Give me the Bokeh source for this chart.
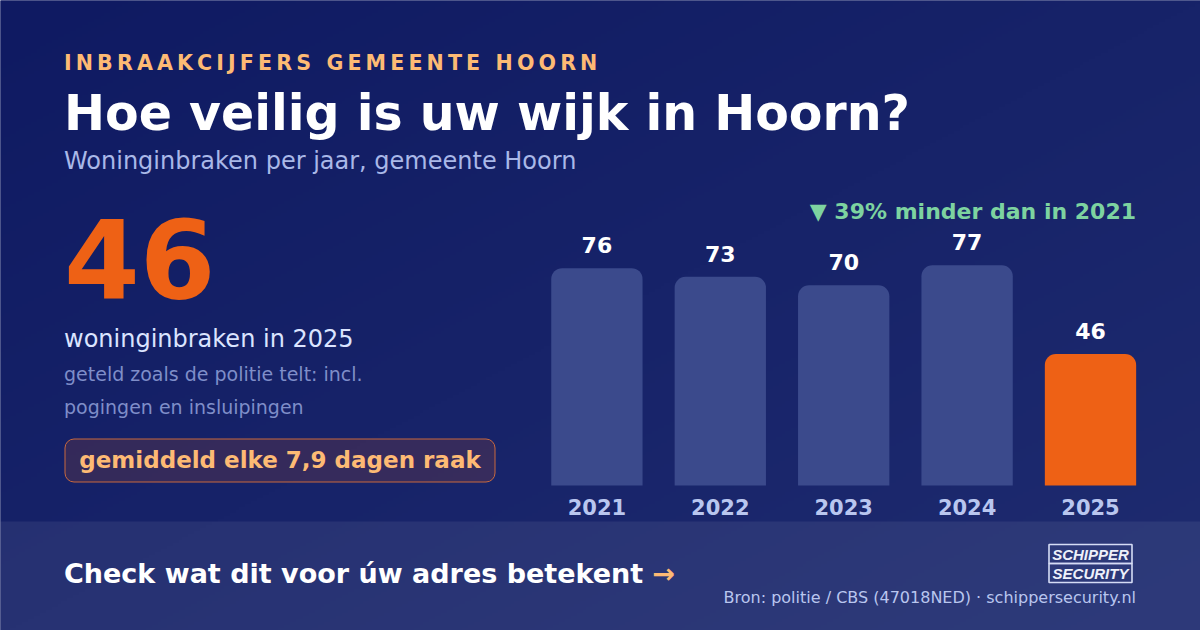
import numpy as np
from bokeh.plotting import figure
from bokeh.models import Range1d, ColumnDataSource
from bokeh.embed import file_html
from bokeh.resources import INLINE
from bokeh.core.properties import value

years = ["2021", "2022", "2023", "2024", "2025"]
burglaries = [76, 73, 70, 77, 46]
bar_colors = ["#3b4a8c", "#3b4a8c", "#3b4a8c", "#3b4a8c", "#ee6115"]

W, H = 1200, 630
PX_PER_UNIT = 2.86
BASE_Y = 485
PITCH = 123.4
FIRST_X = 596.4
BL = 0.36  # baseline correction, in em
LEFT = 63.5

FONT = value("DejaVu Sans")

p = figure(width=W, height=H, output_backend="svg", toolbar_location=None,
           x_range=Range1d(-FIRST_X / PITCH, (W - FIRST_X) / PITCH),
           y_range=Range1d(-(H - BASE_Y) / PX_PER_UNIT, BASE_Y / PX_PER_UNIT),
           min_border=0, outline_line_color=None, background_fill_color="#16226a",
           border_fill_color="#16226a")
p.axis.visible = False
p.grid.visible = False
p.extra_x_ranges["px"] = Range1d(0, W)
p.extra_y_ranges["px"] = Range1d(H, 0)

# diagonal page background
yy, xx = np.mgrid[0:H // 3, 0:W // 3]
t = (xx / (W / 3) + yy / (H / 3)) / 2
c0, c1 = np.array([15, 26, 98]), np.array([31, 44, 112])
rgb = (c0[None, None, :] + (c1 - c0)[None, None, :] * t[..., None]).astype(np.uint32)
packed = (255 << 24) | (rgb[..., 2] << 16) | (rgb[..., 1] << 8) | rgb[..., 0]
p.image_rgba(image=[packed.astype(np.uint32)], x=-3, y=-3, dw=W + 6, dh=H + 6, x_range_name="px", y_range_name="px")

# footer band
p.quad(left=-2, right=W + 2, top=521, bottom=H + 2, fill_color="#ffffff", fill_alpha=0.07, line_color=None,
       x_range_name="px", y_range_name="px")

# bars
src = ColumnDataSource(dict(i=list(range(len(years))), v=burglaries, year=years, c=bar_colors,
                            label=[str(v) for v in burglaries], zero=[0] * len(years)))
p.vbar(x="i", top="v", bottom=0, width=0.74, fill_color="c", line_color=None, source=src,
       border_radius=(11, 11, 0, 0))
p.text(x="i", y="v", text="label", source=src, text_font=FONT, text_font_style="bold",
       text_font_size="22px", text_color="#ffffff", text_align="center",
       text_baseline="alphabetic", y_offset=-15 - BL * 22)
p.text(x="i", y="zero", text="year", source=src, text_font=FONT, text_font_style="bold",
       text_font_size="21px", text_color="#b9c6ef", text_align="center",
       text_baseline="alphabetic", y_offset=29 - BL * 21)


def put(x, y, s, size, color, bold=False, align="left"):
    p.text(x=[x], y=[y], text=[s], x_range_name="px", y_range_name="px", text_font=FONT,
           text_font_style="bold" if bold else "normal", text_font_size=f"{size}px",
           text_color=color, text_align=align, text_baseline="alphabetic", y_offset=-BL * size)


# tracked caps: Bokeh text has no letter-spacing, so thin spaces carry the tracking
eyebrow = "\u2009".join("INBRAAKCIJFERS GEMEENTE HOORN")
put(LEFT, 69.5, eyebrow, 20.6, "#fdba74", True)
put(LEFT, 131, "Hoe veilig is uw wijk in Hoorn?", 49, "#ffffff", True)
put(LEFT, 169, "Woninginbraken per jaar, gemeente Hoorn", 24, "#a9b8e8")
put(LEFT, 297, "46", 109, "#ee6115", True)
put(LEFT, 347, "woninginbraken in 2025", 24, "#dbe4ff")
put(LEFT, 380, "geteld zoals de politie telt: incl.", 19, "#7f8ec9")
put(LEFT, 413, "pogingen en insluipingen", 19, "#7f8ec9")

# pill
p.quad(left=64.5, right=494.5, top=438.5, bottom=481.5, fill_color="#ee6115", fill_alpha=0.15,
       line_color="#c8693f", line_width=1, border_radius=9, x_range_name="px", y_range_name="px")
put(279.5, 468, "gemiddeld elke 7,9 dagen raak", 23, "#fdba74", True, "center")

put(1135.5, 219, "▼ 39% minder dan in 2021", 22, "#7dd3a0", True, "right")

put(LEFT, 583, "Check wat dit voor úw adres betekent", 27, "#ffffff", True)
put(652, 583, "→", 27, "#fdba74", True)
put(1135.5, 603, "Bron: politie / CBS (47018NED) · schippersecurity.nl", 16, "#b9c6ef", False, "right")

# logo
p.quad(left=[1048.5, 1048.5], right=[1131.5, 1131.5], top=[544, 563], bottom=[563, 582],
       fill_color=None, line_color="#d5dcf5", line_width=1.6, x_range_name="px", y_range_name="px")
for yb, word in ((559, "SCHIPPER"), (578, "SECURITY")):
    p.text(x=[1090], y=[yb], text=[word], x_range_name="px", y_range_name="px",
           text_font=value("Liberation Sans"), text_font_style="bold italic", text_font_size="15px",
           text_color="#eef1fb", text_align="center", text_baseline="alphabetic", y_offset=-BL * 15)

open("out.html", "w").write(file_html(p, INLINE))
